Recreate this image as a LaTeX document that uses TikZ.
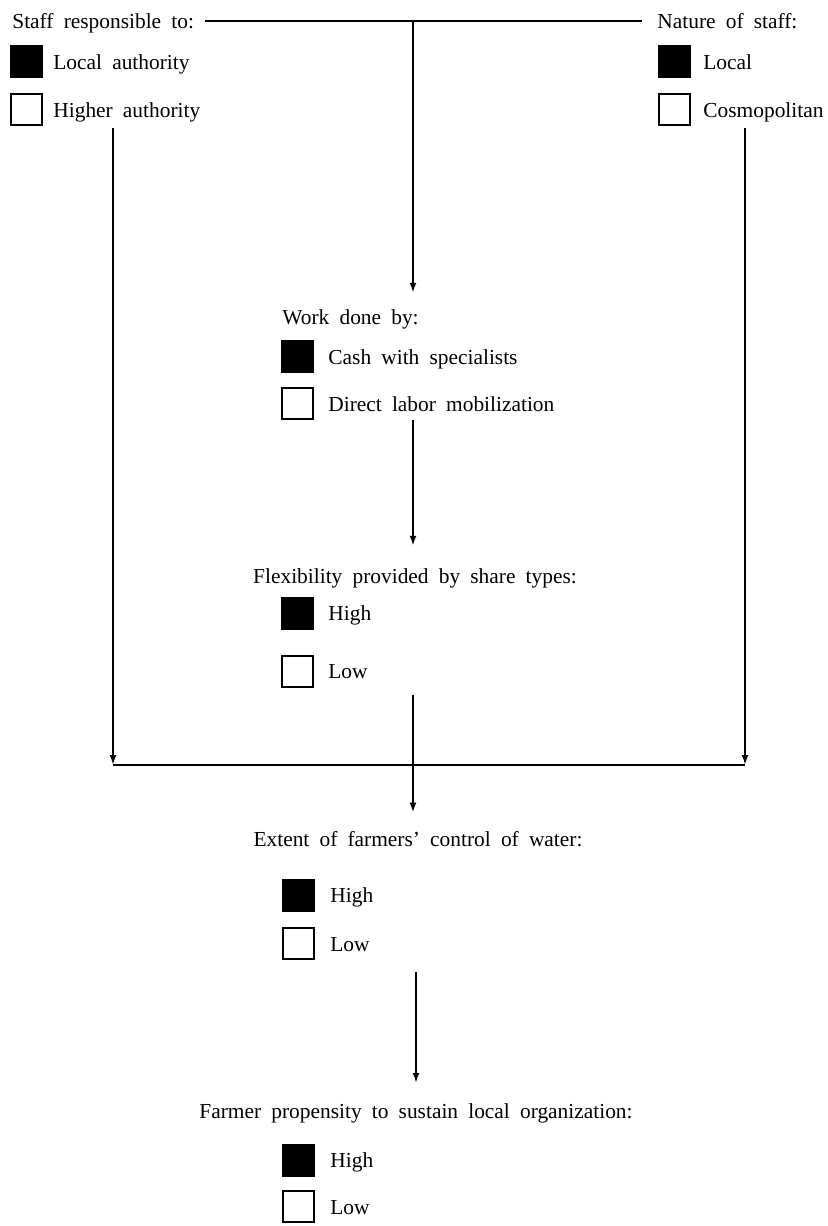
\documentclass[tikz,border=0pt]{standalone}
\usepackage{fontspec}
\setmainfont{Liberation Serif}[WordSpace=1.9]
\usetikzlibrary{arrows.meta}

\tikzset{
  hdr/.style={anchor=base west, inner sep=0pt},
  mid/.style={anchor=base, inner sep=0pt},
  lbl/.style={anchor=base west, inner sep=0pt},
  fullbox/.style={draw, fill=black, line width=1pt, minimum size=15.5pt, inner sep=0pt},
  openbox/.style={draw, fill=white, line width=1pt, minimum size=15.5pt, inner sep=0pt},
  ln/.style={line width=1pt},
  arr/.style={line width=1pt, -{Latex[length=5pt,width=3.5pt]}},
}

\begin{document}
\begin{tikzpicture}[x=0.5pt,y=-0.5pt,font=\fontsize{10.7pt}{13pt}\selectfont]
  \useasboundingbox (0,0) rectangle (827,1226);

  % top left: responsibility of staff
  \node[hdr] (staff) at (12,28) {Staff responsible to:};
  \node[fullbox] (locauth) at (26,61.5) {};
  \node[lbl] (locauthT) at (53,69) {Local authority};
  \node[openbox] (highauth) at (26,109) {};
  \node[lbl] (highauthT) at (53,117) {Higher authority};

  % top right: nature of staff
  \node[hdr] (nature) at (657,28) {Nature of staff:};
  \node[fullbox] (local) at (674,61.5) {};
  \node[lbl] (localT) at (703,69) {Local};
  \node[openbox] (cosmo) at (674,109) {};
  \node[lbl] (cosmoT) at (703,117) {Cosmopolitan};

  % work done by
  \node[hdr] (work) at (282,324) {Work done by:};
  \node[fullbox] (cash) at (297,356.5) {};
  \node[lbl] (cashT) at (328,364) {Cash with specialists};
  \node[openbox] (direct) at (297,403.5) {};
  \node[lbl] (directT) at (328,411) {Direct labor mobilization};

  % flexibility
  \node[mid] (flex) at (415,583) {Flexibility provided by share types:};
  \node[fullbox] (flexhi) at (297,613.5) {};
  \node[lbl] (flexhiT) at (328,620) {High};
  \node[openbox] (flexlo) at (297,671) {};
  \node[lbl] (flexloT) at (328,678) {Low};

  % control of water
  \node[mid] (water) at (418,846) {Extent of farmers' control of water:};
  \node[fullbox] (waterhi) at (298,895) {};
  \node[lbl] (waterhiT) at (330,902) {High};
  \node[openbox] (waterlo) at (298,943.5) {};
  \node[lbl] (waterloT) at (330,951) {Low};

  % propensity
  \node[mid] (farmer) at (416,1118) {Farmer propensity to sustain local organization:};
  \node[fullbox] (farmhi) at (298,1160) {};
  \node[lbl] (farmhiT) at (330,1167) {High};
  \node[openbox] (farmlo) at (298,1206.5) {};
  \node[lbl] (farmloT) at (330,1214) {Low};

  % junctions
  \coordinate (topL) at (205,21);
  \coordinate (topR) at (642,21);
  \coordinate (topM) at (413,21);
  \coordinate (botL) at (113,765);
  \coordinate (botR) at (745,765);
  \coordinate (botM) at (413,765);

  % connectors
  \draw[ln] (topL) -- (topR);
  \draw[arr, shorten >=8pt] (topM) -- (topM |- work.north);
  \draw[arr, shorten <=4pt, shorten >=11pt] (topM |- directT.south) -- (topM |- flex.north);
  \draw[arr, shorten <=3pt] (highauthT.south -| botL) -- (botL);
  \draw[arr, shorten <=3pt] (cosmoT.south -| botR) -- (botR);
  \draw[ln] (botL) -- (botR);
  \draw[ln, shorten <=8pt] (topM |- flexloT.south) -- (botM);
  \draw[arr, shorten >=9pt] (botM) -- (botM |- water.north);
  \draw[arr, shorten <=6pt, shorten >=10pt] (416,960) -- (416,1103);
\end{tikzpicture}
\end{document}
